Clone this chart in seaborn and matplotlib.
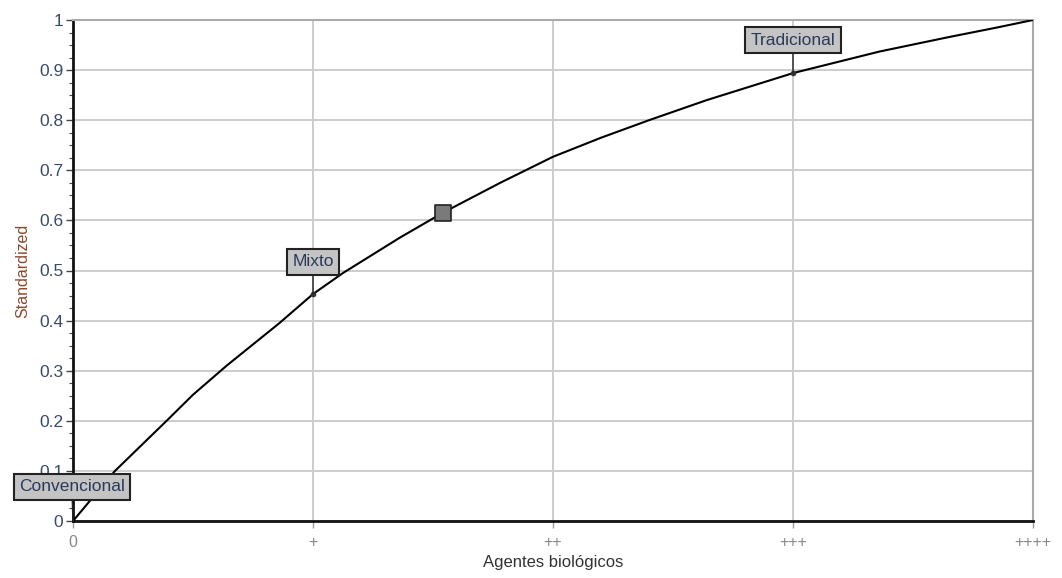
import pandas as pd
import matplotlib
matplotlib.use("Agg")
import matplotlib.pyplot as plt
import seaborn as sns
from matplotlib.ticker import MultipleLocator

# curve (x: 0..4 levels of biological agents)
x_curve = [0, 0.175, 0.39, 0.5, 0.64, 0.86, 1.0, 1.125, 1.36, 1.54, 1.78, 2.0, 2.2,
           2.40, 2.64, 3.0, 3.36, 3.64, 3.85, 4.0]
y_curve = [0, 0.10, 0.20, 0.252, 0.31, 0.395, 0.453, 0.495, 0.565, 0.615, 0.675, 0.727, 0.765,
           0.80, 0.84, 0.894, 0.937, 0.965, 0.985, 1.0]

# labelled alternatives
alt_names = ["Convencional", "Mixto", "Tradicional"]
alt_x = [0, 1, 3]
alt_y = [0, 0.453, 0.894]
label_x = [-0.005, 1.0, 3.0]
label_y = [0.068, 0.517, 0.96]

# current position marker
cur_x = [1.54]
cur_y = [0.615]

x_ticks = [0, 1, 2, 3, 4]
x_ticklabels = ["0", "+", "++", "+++", "++++"]
y_ticks = [0, 0.1, 0.2, 0.3, 0.4, 0.5, 0.6, 0.7, 0.8, 0.9, 1.0]
y_ticklabels = ["0", "0.1", "0.2", "0.3", "0.4", "0.5", "0.6", "0.7", "0.8", "0.9", "1"]

df = pd.DataFrame({"x": x_curve, "y": y_curve})

sns.set_style("white")
plt.rcParams["font.family"] = ["Liberation Sans", "DejaVu Sans"]

fig = plt.figure(figsize=(10.62, 5.78), dpi=100)
ax = fig.add_axes([73 / 1062, 57 / 578, 960 / 1062, 501 / 578])

sns.lineplot(data=df, x="x", y="y", ax=ax, color="black", lw=1.5, zorder=3)
sns.scatterplot(x=cur_x, y=cur_y, ax=ax, marker="s", s=140, color="#7a7a7a",
                edgecolor="#222222", linewidth=1.2, zorder=4)
sns.scatterplot(x=alt_x[1:], y=alt_y[1:], ax=ax, s=14, color="#333333",
                edgecolor="#333333", zorder=4)

ax.set_xlim(0, 4)
ax.set_ylim(0, 1)
ax.set_xticks(x_ticks)
ax.set_xticklabels(x_ticklabels, color="#888888", fontsize=11.5)
ax.set_yticks(y_ticks)
ax.set_yticklabels(y_ticklabels, color="#3a4a6a", fontsize=12.5)
ax.yaxis.set_minor_locator(MultipleLocator(0.025))
ax.tick_params(axis="y", which="major", length=5, width=1, color="#444444", left=True, pad=2)
ax.tick_params(axis="y", which="minor", length=3, width=0.8, color="#444444", left=True)
ax.tick_params(axis="x", which="major", length=5, width=1, color="#999999", bottom=True, pad=5)

ax.grid(True, which="major", color="#cccccc", lw=1.4)
for s in ["top", "right"]:
    ax.spines[s].set_color("#aaaaaa")
    ax.spines[s].set_linewidth(1.5)
for s in ["left", "bottom"]:
    ax.spines[s].set_color("#111111")
    ax.spines[s].set_linewidth(2)

ax.set_xlabel("Agentes biológicos", fontsize=12, color="#333333", labelpad=4)
ax.set_ylabel("Standardized", fontsize=11.5, color="#8a4a2a", labelpad=6)

box = dict(boxstyle="square,pad=0.3", fc="#c4c4c4", ec="#222222", lw=1.5)
for name, x, y, lx, ly in zip(alt_names, alt_x, alt_y, label_x, label_y):
    ax.annotate(name, xy=(x, y), xytext=(lx, ly), ha="center", va="center",
                fontsize=12.5, color="#2a3a5a", bbox=box, zorder=6,
                arrowprops=dict(arrowstyle="-", color="#222222", lw=1, shrinkA=0, shrinkB=0),
                annotation_clip=False)

fig.savefig("out.png", dpi=100)
